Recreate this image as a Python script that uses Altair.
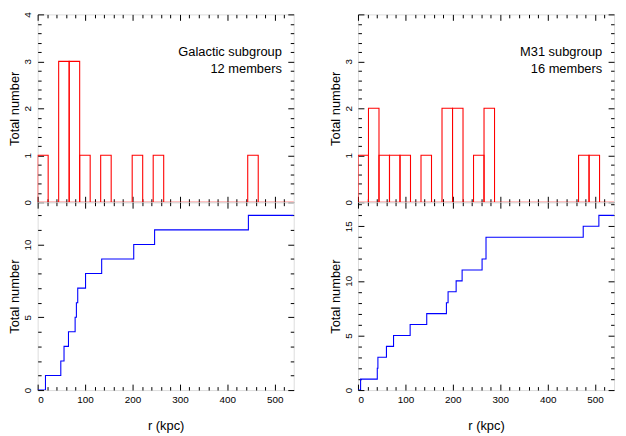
import altair as alt
import numpy as np
import pandas as pd

# ---- data ----
galactic_r = [16.5, 48.8, 55.6, 65, 79, 81.7, 84.5, 101, 135, 202.6, 246.6, 444.4]
m31_r = [5.5, 40.7, 42, 60, 75, 110, 145, 186.5, 190, 207, 219.6, 261.7, 270, 270, 475, 508]
group_names = ["Galactic subgroup", "M31 subgroup"]
member_texts = ["12 members", "16 members"]
bin_width = 22.15
r_max = 540
hist_ymax = 4

FONT = "Liberation Sans"
W, H = 259, 190

x_ticks = list(range(0, r_max, 20))
X_TICK = {"expr": "datum.value % 100 === 0 ? -6 : -3.5"}
Y_TICK_TOP = {"expr": "abs(datum.value - round(datum.value)) < 0.001 ? -6 : -3.5"}
Y_TICK_BOT = {"expr": "datum.value % 5 === 0 ? -6 : -3.5"}


def common(**kw):
    base = dict(domain=False, grid=False, tickColor="black", tickWidth=1,
                labelFont=FONT, labelFontSize=10, labelColor="black",
                titleFont=FONT, titleFontSize=13, titleFontWeight="normal", titleColor="black")
    base.update(kw)
    return alt.Axis(**base)


def x_axis(orient, with_labels):
    if with_labels:
        return common(orient=orient, values=x_ticks, tickSize=X_TICK,
                      labelExpr="datum.value % 100 === 0 ? format(datum.value, 'd') : ''",
                      labelPadding=11, titlePadding=15)
    return common(orient=orient, values=x_ticks, tickSize=X_TICK, labels=False)


def y_axis(orient, values, ticksize, label_expr=None):
    if label_expr is not None:
        return common(orient=orient, values=values, tickSize=ticksize, labelExpr=label_expr,
                      labelAngle=270, labelAlign="center", labelBaseline="bottom",
                      labelPadding=11, titlePadding=1)
    return common(orient=orient, values=values, tickSize=ticksize, labels=False)


def label_layer(text, yval):
    tdf = pd.DataFrame({"label": [text]})
    return alt.Chart(tdf).mark_text(align="right", baseline="middle", font=FONT,
                                    fontSize=13, color="black").encode(
        text="label:N",
        x=alt.XDatum(515, axis=None), y=alt.YDatum(yval, axis=None))


def hist_panel(r, name, members, top_label_expr):
    r = np.asarray(r, dtype=float)
    nb = int(np.ceil(r_max / bin_width))
    idx = np.floor(r / bin_width).astype(int)
    counts = np.bincount(idx, minlength=nb)[:nb]
    df = pd.DataFrame({"x0": np.arange(nb) * bin_width,
                       "x1": (np.arange(nb) + 1) * bin_width,
                       "count": counts})
    yvals = [round(0.2 * k, 1) for k in range(int(hist_ymax / 0.2) + 1)]
    xs = alt.Scale(domain=[0, r_max], nice=False, zero=False)
    ys = alt.Scale(domain=[0, hist_ymax], nice=False)
    bars = alt.Chart(df).mark_rect(fillOpacity=0, stroke="#ff0000", strokeWidth=1.1, clip=True).encode(
        x=alt.X("x0:Q", scale=xs, axis=x_axis("bottom", False), title=None),
        x2="x1:Q",
        y=alt.Y("count:Q", scale=ys, title="Total number",
                axis=y_axis("left", yvals, Y_TICK_TOP, top_label_expr)),
        y2=alt.datum(0),
    )
    ghost = alt.Chart(df).mark_point(opacity=0).encode(
        x=alt.X("x0:Q", scale=xs, axis=x_axis("top", False), title=None),
        y=alt.Y("count:Q", scale=ys, axis=y_axis("right", yvals, Y_TICK_TOP), title=None),
    )
    return alt.layer(bars, ghost, label_layer(name, 3.2), label_layer(members, 2.83)).properties(
        width=W, height=H)


def cum_panel(r, ymax):
    r = sorted(r)
    n = len(r)
    xs_ = [0.0] + list(r) + [float(r_max)]
    ns_ = [0] + list(range(1, n + 1)) + [n]
    df = pd.DataFrame({"r": xs_, "n": ns_, "i": range(len(xs_))})
    yvals = list(range(0, int(np.floor(ymax)) + 1))
    xs = alt.Scale(domain=[0, r_max], nice=False, zero=False)
    ys = alt.Scale(domain=[0, ymax], nice=False)
    line = alt.Chart(df).mark_line(interpolate="step-after", color="#0000ff", strokeWidth=1.1, clip=True).encode(
        x=alt.X("r:Q", scale=xs, title="r (kpc)", axis=x_axis("bottom", True)),
        y=alt.Y("n:Q", scale=ys, title="Total number",
                axis=y_axis("left", yvals, Y_TICK_BOT,
                            "datum.value % 5 === 0 ? format(datum.value, 'd') : ''")),
        order="i:Q",
    )
    ghost = alt.Chart(df).mark_point(opacity=0).encode(
        x=alt.X("r:Q", scale=xs, axis=x_axis("top", False), title=None),
        y=alt.Y("n:Q", scale=ys, axis=y_axis("right", yvals, Y_TICK_BOT), title=None),
    )
    return alt.layer(line, ghost).properties(width=W, height=H)


tl = hist_panel(galactic_r, group_names[0], member_texts[0],
                "abs(datum.value - round(datum.value)) < 0.001 ? format(datum.value, 'd') : ''")
tr = hist_panel(m31_r, group_names[1], member_texts[1],
                "abs(datum.value - round(datum.value)) < 0.001 && datum.value < 3.5 ? format(datum.value, 'd') : ''")
bl = cum_panel(galactic_r, len(galactic_r) * 1.075)
br = cum_panel(m31_r, len(m31_r) * 1.075)

chart = alt.concat(tl, tr, bl, br, columns=2, spacing={"row": 0, "column": 65},
                   bounds="flush").properties(
    padding={"left": 0, "top": 0, "right": 0, "bottom": 0}
).configure_view(stroke="black", strokeWidth=1).configure(background="white")

chart.save("out.html", embed_options={"renderer": "svg", "actions": False})
